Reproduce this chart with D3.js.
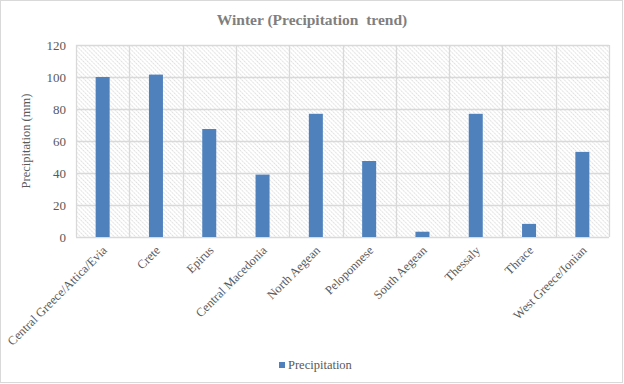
<!DOCTYPE html>
<html>
<head>
<meta charset="utf-8">
<script src="https://cdn.jsdelivr.net/npm/d3@7"></script>
<style>
  body { margin: 0; background: #fff; }
  svg, svg text, svg g { font-family: 'Times New Roman', 'Liberation Serif', Tinos, 'DejaVu Serif', serif !important; }
</style>
</head>
<body>
<div id="chart"></div>
<script>
// Winter precipitation by region

var regions = ['Central Greece/Attica/Evia', 'Crete', 'Epirus', 'Central Macedonia',
  'North Aegean', 'Peloponnese', 'South Aegean', 'Thessaly', 'Thrace', 'West Greece/Ionian'];
var precipitation = [100, 101.5, 67.5, 39, 77, 47.5, 3.3, 77, 8.2, 53.2];
var yTicks = [0, 20, 40, 60, 80, 100, 120];

var width = 624, height = 384;
var margin = {top: 45, right: 15, bottom: 147, left: 76};

var svg = d3.select('#chart').append('svg')
  .attr('width', width)
  .attr('height', height);

// outer border
svg.append('rect')
  .attr('x', 0.5).attr('y', 0.5)
  .attr('width', width - 2).attr('height', height - 2)
  .attr('fill', '#fff')
  .attr('stroke', '#d9d9d9');

// hatch pattern for plot background
var pattern = svg.append('defs').append('pattern')
  .attr('id', 'hatch')
  .attr('patternUnits', 'userSpaceOnUse')
  .attr('width', 3).attr('height', 3)
  .attr('patternTransform', 'rotate(-45)');
pattern.append('line')
  .attr('x1', 0.5).attr('y1', 0).attr('x2', 0.5).attr('y2', 3)
  .attr('stroke', '#d6d6d6')
  .attr('stroke-width', 0.8)
  .attr('stroke-dasharray', '1,0.5');

var x = d3.scaleBand()
  .domain(regions)
  .range([margin.left, width - margin.right]);

var y = d3.scaleLinear()
  .domain([0, 120])
  .range([height - margin.bottom, margin.top]);

var plot = svg.append('g');

plot.append('rect')
  .attr('x', x.range()[0])
  .attr('y', y(120))
  .attr('width', x.range()[1] - x.range()[0])
  .attr('height', y(0) - y(120))
  .attr('fill', 'url(#hatch)');

// horizontal gridlines
plot.selectAll('.hgrid')
  .data(yTicks)
  .enter().append('line')
  .attr('class', 'hgrid')
  .attr('x1', x.range()[0]).attr('x2', x.range()[1])
  .attr('y1', function(d) { return Math.round(y(d)) + 0.5; })
  .attr('y2', function(d) { return Math.round(y(d)) + 0.5; })
  .attr('stroke', '#d9d9d9')
  .attr('stroke-width', 1.3);

// vertical gridlines at category boundaries
var bounds = regions.map(function(d) { return x(d); }).concat([x.range()[1]]);
plot.selectAll('.vgrid')
  .data(bounds)
  .enter().append('line')
  .attr('class', 'vgrid')
  .attr('x1', function(d) { return Math.round(d) + 0.5; })
  .attr('x2', function(d) { return Math.round(d) + 0.5; })
  .attr('y1', y(120)).attr('y2', y(0))
  .attr('stroke', '#d9d9d9')
  .attr('stroke-width', 1.3);

// bars
var barW = 14;
plot.selectAll('.bar')
  .data(precipitation)
  .enter().append('rect')
  .attr('class', 'bar')
  .attr('x', function(d, i) { return x(regions[i]) + x.bandwidth() / 2 - barW / 2; })
  .attr('y', function(d) { return y(d); })
  .attr('width', barW)
  .attr('height', function(d) { return y(0) - y(d); })
  .attr('fill', '#4f81bd');

// y axis labels
var yAxis = svg.append('g')
  .attr('transform', 'translate(' + (margin.left - 10) + ',0)')
  .call(d3.axisLeft(y).tickValues(yTicks).tickSize(0).tickPadding(0));
yAxis.select('.domain').remove();
yAxis.selectAll('text')
  .attr('fill', '#595959')
  .style('font-size', '13px');

// x axis labels
var xAxis = svg.append('g')
  .attr('transform', 'translate(2,' + (y(0) + 11) + ')')
  .call(d3.axisBottom(x).tickSize(0).tickPadding(0));
xAxis.select('.domain').remove();
xAxis.selectAll('text')
  .attr('fill', '#595959')
  .style('font-size', '12.4px')
  .style('text-anchor', 'end')
  .attr('dy', '0.35em')
  .attr('transform', 'rotate(-45)');

// title
svg.append('text')
  .attr('x', width / 2)
  .attr('y', 25)
  .attr('text-anchor', 'middle')
  .attr('fill', '#7f7f7f')
  .style('font-size', '15.5px')
  .style('font-weight', 'bold')
  .style('white-space', 'pre')
  .text('Winter (Precipitation  trend)');

// y axis title
svg.append('text')
  .attr('transform', 'translate(30,' + ((y(0) + y(120)) / 2) + ') rotate(-90)')
  .attr('text-anchor', 'middle')
  .attr('fill', '#595959')
  .style('font-size', '12.5px')
  .text('Precipitation (mm)');

// legend
var legend = svg.append('g').attr('transform', 'translate(279,362)');
legend.append('rect')
  .attr('width', 6).attr('height', 6)
  .attr('fill', '#4f81bd');
legend.append('text')
  .attr('x', 9).attr('y', 7)
  .attr('fill', '#595959')
  .style('font-size', '12.5px')
  .text('Precipitation');
</script>
</body>
</html>
